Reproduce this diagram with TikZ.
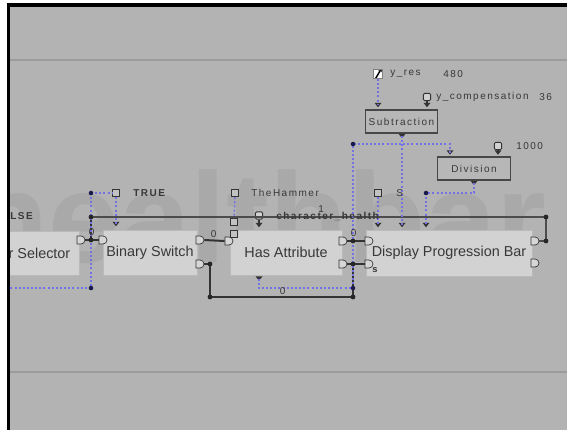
\documentclass[tikz,border=0pt]{standalone}
\usepackage{fontspec}
\setmainfont{Liberation Sans}
\newfontfamily\smallfont[LetterSpace=15]{Liberation Sans}
\usetikzlibrary{shapes.misc,arrows.meta}
\definecolor{bg}{HTML}{B3B3B3}
\definecolor{wm}{HTML}{A9A9A9}
\definecolor{sepc}{HTML}{9C9C9C}
\definecolor{boxfill}{HTML}{D2D2D2}
\definecolor{boxline}{HTML}{BABABA}
\definecolor{txt}{HTML}{383838}
\definecolor{dark}{HTML}{333333}
\definecolor{blue}{HTML}{7272E4}
\definecolor{navy}{HTML}{1A1A4A}
\definecolor{portfill}{HTML}{D6D6D6}
\tikzset{
  bigbox/.style={draw=boxline, fill=boxfill, line width=0.6pt, text=txt, inner sep=0,
    font=\fontsize{10.8}{12}\selectfont},
  smallbox/.style={draw=dark!90, line width=1.1pt, fill=bg!95!white, text=txt, inner sep=0,
    font=\smallfont\fontsize{7.5}{9}\selectfont},
  lbl/.style={anchor=west, inner sep=0, text=txt, font=\smallfont\fontsize{7.5}{9}\selectfont},
  port/.style={rounded rectangle, rounded rectangle west arc=none, draw=dark, fill=portfill,
    line width=0.5pt, minimum width=4.5pt, minimum height=6pt, inner sep=0},
  dot/.style={circle, fill=black!85, inner sep=0, minimum size=3.6pt},
  bdot/.style={circle, fill=navy, inner sep=0, minimum size=3.4pt},
  sqicon/.style={draw=dark, fill=bg!80!white, line width=0.7pt, minimum size=5.5pt, inner sep=0},
  monicon/.style={draw=dark, fill=bg!60!white, line width=0.7pt, rounded corners=1pt,
    minimum width=5.5pt, minimum height=5.5pt, inner sep=0},
  bl/.style={draw=blue, line width=1.1pt, dash pattern=on 1.5pt off 1.6pt},
  bk/.style={draw=black!80, line width=1.5pt},
  bkthick/.style={draw=black!70, line width=2pt},
  stem/.style={draw=dark, line width=1pt},
  pics/tri/.style={code={\fill[dark] (-3.5,-2.2) -- (3.5,-2.2) -- (0,2.2) -- cycle;}}
}
\begin{document}
\begin{tikzpicture}[x=0.75pt,y=-0.75pt]
\useasboundingbox (0,0) rectangle (567,430);
\fill[white] (0,0) rectangle (567,430);
\fill[bg] (9,6) rectangle (567,430);
% watermark
\begin{scope}
\clip (10,61) rectangle (567,371);
\node[anchor=base west, inner sep=0, text=wm, font=\fontsize{96}{96}\selectfont\bfseries] (wmark) at (-30,262) {healthbar};
\end{scope}
% separators
\draw[sepc, line width=1.1pt] (10,60) -- (567,60);
\draw[sepc, line width=1.1pt] (10,372) -- (567,372);

% big boxes
\begin{scope}
\clip (9.5,0) rectangle (567,430);
\node[bigbox, minimum width=59.25pt, minimum height=33pt] (sel) at (39.5,253) {r Selector};
\end{scope}
\node[bigbox, minimum width=70.5pt, minimum height=33.75pt] (bsw) at (150,252.5) {Binary Switch};
\node[bigbox, minimum width=84pt, minimum height=33.75pt] (hat) at (286,252.5) {Has Attribute};
\node[bigbox, minimum width=124.5pt, minimum height=34.5pt] (dpb) at (449,253) {Display Progression Bar};

% small boxes
\node[smallbox, minimum width=54pt, minimum height=17.25pt] (sub) at (401.5,121.5) {Subtraction};
\node[smallbox, minimum width=54.75pt, minimum height=17.25pt] (div) at (474,168.5) {Division};

% triangle ports
\coordinate (sub-i1) at (378,105);
\coordinate (sub-i2) at (427,105);
\coordinate (sub-o) at (402,136);
\coordinate (div-i1) at (450,152.5);
\coordinate (div-i2) at (498,152.5);
\coordinate (div-o) at (474,183);
\coordinate (bsw-t) at (116,224);
\coordinate (hat-t) at (259,225);
\coordinate (hat-b) at (259,278.5);
\coordinate (dpb-t1) at (378,225);
\coordinate (dpb-t2) at (402,225);
\coordinate (dpb-t3) at (426,225);
\foreach \c in {sub-i1,sub-i2,sub-o,div-i1,div-i2,div-o,bsw-t,hat-t,hat-b,dpb-t1,dpb-t2,dpb-t3}
  \pic at (\c) {tri};

% icons
\node[draw=black!50, fill=white, minimum size=7pt, inner sep=0,
  path picture={\draw[black, line width=1.1pt, -{Stealth[length=2.6pt,width=3pt]}]
    ([shift={(1pt,-1pt)}]path picture bounding box.south west) -- ([shift={(-0.8pt,0.8pt)}]path picture bounding box.north east);}]
  (yres) at (378,74) {};
\node[monicon] (ycomp) at (427,97) {};
\node[monicon] (kilo) at (498,146) {};
\node[monicon] (chh) at (259,215.5) {};
\node[sqicon] (true) at (116,193) {};
\node[sqicon] (hammer) at (235,193) {};
\node[sqicon] (sic) at (378,193) {};
\node[sqicon, minimum size=5pt] (hsq1) at (234,222) {};
\node[sqicon, minimum size=5pt] (hsq2) at (234,234) {};

% ports
\node[port] (sel-o) at (81,240) {};
\node[port] (bsw-i) at (103,240) {};
\node[port] (bsw-o1) at (200,240) {};
\node[port] (bsw-o2) at (200,264) {};
\node[port] (hat-i) at (229,241) {};
\node[port] (hat-o1) at (343,241) {};
\node[port] (hat-o2) at (343,264) {};
\node[port] (dpb-i1) at (369,241) {};
\node[port] (dpb-i2) at (369,264) {};
\node[port] (dpb-o1) at (535,241) {};
\node[port] (dpb-o2) at (535,263) {};

% junction points
\coordinate (bd1) at (91,193);
\coordinate (bd5) at (91,288);
\coordinate (bd2) at (353,288);
\coordinate (bd3) at (353,144);
\coordinate (bd4) at (426,193);
\coordinate (k1) at (91,217);
\coordinate (k2) at (91,240);
\coordinate (k3) at (546,217);
\coordinate (k4) at (546,241);
\coordinate (k5) at (210,264);
\coordinate (k6) at (210,297);
\coordinate (k7) at (353,297);
\coordinate (k8) at (353,264);
\coordinate (k9) at (353,241);
\coordinate (leftend) at (10,288);

% black connectors
\draw[bkthick] (k1) -- (k3) -- (k4) -- (dpb-o1.east);
\draw[bk] (k1) -- (k2);
\draw[bk] (sel-o.east) -- (k2) -- (bsw-i.west);
\draw[bk] (bsw-o1.east) -- (hat-i.west);
\draw[bk] (bsw-o2.east) -- (k5) -- (k6) -- (k7) -- (k8);
\draw[bk] (hat-o2.east) -- (k8) -- (dpb-i2.west);
\draw[bk] (hat-o1.east) -- (k9) -- (dpb-i1.west);
\draw[stem] (ycomp.south) -- (sub-i2);
\draw[stem] (kilo.south) -- (div-i2);
\draw[stem] (chh.south) -- (hat-t);

% blue dotted connectors
\draw[bl] (yres.south) -- (sub-i1);
\draw[bl] (sub-o) -- (dpb-t2);
\draw[bl] (hat-b) -- (259,288) -- (bd2) -- (bd3) -- (450,144) -- (div-i1);
\draw[bl] (div-o) -- (474,193) -- (bd4) -- (dpb-t3);
\draw[bl] (sic.south) -- (dpb-t1);
\draw[bl] (true.south) -- (bsw-t);
\draw[bl] (bd1) -- (true.west);
\draw[bl] (bd1) -- (bd5) -- (leftend);
\draw[bl] (hammer.south) -- (hsq1.north);

% dots
\foreach \c in {k1,k2,k3,k4,k5,k6,k7,k8,k9} \node[dot] at (\c) {};
\foreach \c in {bd1,bd5,bd2,bd3,bd4} \node[bdot] at (\c) {};

% labels
\node[lbl] (l-yres) at (390,74) {y\_res};
\node[lbl] (l-480) at (443,74) {480};
\node[lbl] (l-ycomp) at (436,97) {y\_compensation};
\node[lbl] (l-36) at (539,97) {36};
\node[lbl] (l-1000) at (516,146) {1000};
\node[lbl, font=\smallfont\fontsize{7.5}{9}\selectfont\bfseries] (l-true) at (133,193) {TRUE};
\node[lbl] (l-ham) at (251,193) {TheHammer};
\node[lbl] (l-s) at (396,193) {S};
\node[lbl, font=\smallfont\fontsize{7.5}{9}\selectfont\bfseries] (l-chh) at (276,216.5) {character\_health};
\node[lbl] (l-one) at (318,209) {1};
\node[lbl, font=\smallfont\fontsize{7.5}{9}\selectfont\bfseries] (l-lse) at (10,216) {LSE};
\node[lbl, font=\smallfont\fontsize{7}{9}\selectfont\bfseries] (l-pct) at (372,270) {s};
\node[lbl] (z1) at (88.5,232.5) {0};
\node[lbl] (z2) at (210.5,234) {0};
\node[lbl] (z3) at (350.5,233) {0};
\node[lbl] (z4) at (279.5,291) {0};

% border
\draw[black, line width=2.3pt] (8.5,430) -- (8.5,5) -- (567,5);
\end{tikzpicture}
\end{document}
